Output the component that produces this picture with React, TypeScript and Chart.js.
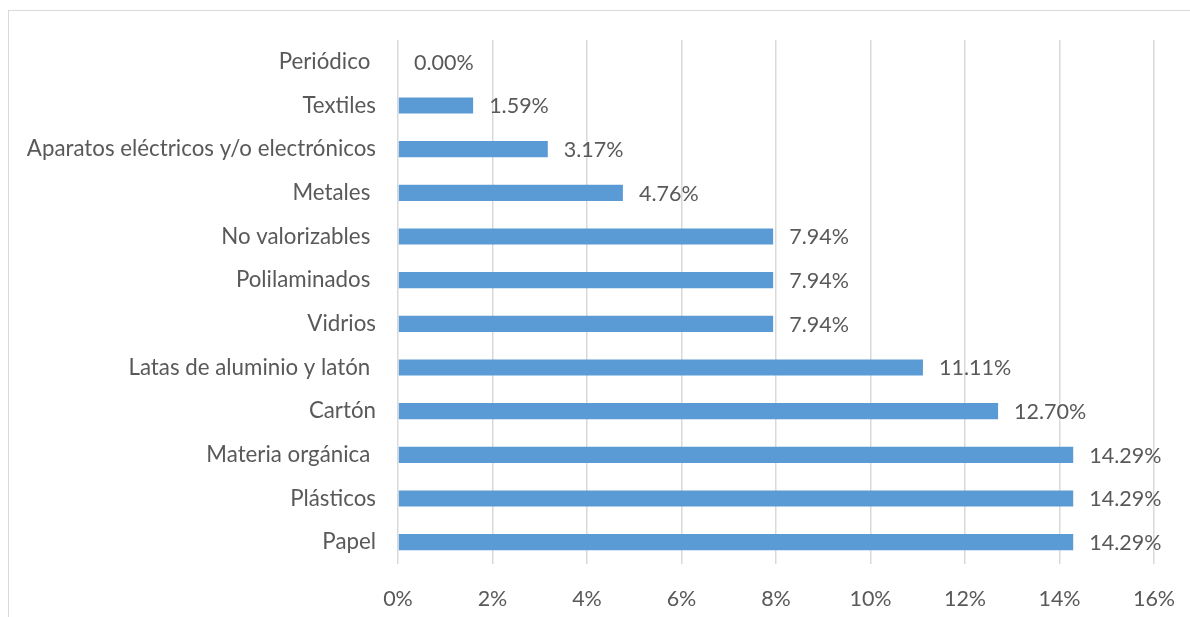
import React, { useEffect, useRef } from "react";
import { Chart, registerables } from "chart.js";

Chart.register(...registerables);

const categories = [
  "Periódico ",
  "Textiles",
  "Aparatos eléctricos y/o electrónicos",
  "Metales ",
  "No valorizables ",
  "Polilaminados ",
  "Vidrios",
  "Latas de aluminio y latón ",
  "Cartón",
  "Materia orgánica ",
  "Plásticos",
  "Papel",
];
const values = [0, 1.59, 3.17, 4.76, 7.94, 7.94, 7.94, 11.11, 12.7, 14.29, 14.29, 14.29];
const xTicks = [0, 2, 4, 6, 8, 10, 12, 14, 16];

const FONT = "Lato, 'Open Sans', sans-serif";
const TEXT = "#595959";
const SIZE = 21.5;

const framePlugin = {
  id: "frame",
  beforeDraw(chart: any) {
    const ctx = chart.ctx;
    ctx.save();
    ctx.fillStyle = "#ffffff";
    ctx.fillRect(0, 0, chart.width, chart.height);
    ctx.strokeStyle = "#d9d9d9";
    ctx.lineWidth = 1;
    ctx.strokeRect(8.5, 10.5, chart.width + 10, chart.height + 10);
    ctx.restore();
  },
};

const labelPlugin = {
  id: "valueLabels",
  afterDatasetsDraw(chart: any) {
    const ctx = chart.ctx;
    const meta = chart.getDatasetMeta(0);
    ctx.save();
    ctx.font = `${SIZE}px ${FONT}`;
    ctx.fillStyle = TEXT;
    ctx.textAlign = "left";
    ctx.textBaseline = "middle";
    meta.data.forEach((bar: any, i: number) => {
      const v = values[i];
      ctx.fillText(v.toFixed(2) + "%", bar.x + 16, bar.y + 1);
    });
    ctx.restore();
  },
};

export default function App() {
  const ref = useRef<HTMLCanvasElement>(null);
  useEffect(() => {
    if (!ref.current) return;
    const chart = new Chart(ref.current, {
      type: "bar",
      data: {
        labels: categories,
        datasets: [
          {
            data: values,
            backgroundColor: "#5b9bd5",
            borderWidth: 0,
            barPercentage: 0.37,
            categoryPercentage: 1,
          },
        ],
      },
      options: {
        indexAxis: "y",
        animation: false,
        responsive: false,
        maintainAspectRatio: false,
        layout: { padding: { top: 40, right: 36, bottom: 0, left: 0 } },
        plugins: {
          legend: { display: false },
          tooltip: { enabled: false },
        },
        scales: {
          x: {
            min: 0,
            max: 16,
            afterBuildTicks(scale: any) {
              scale.ticks = xTicks.map((v) => ({ value: v }));
            },
            afterFit(scale: any) {
              scale.height = 53;
              scale.paddingLeft = 0;
              scale.paddingRight = 0;
            },
            ticks: {
              padding: 22,
              color: TEXT,
              font: { size: SIZE, family: FONT },
              callback: (v: any) => v + "%",
            },
            grid: { color: "#d9d9d9", lineWidth: 1.5, drawTicks: false },
            border: { display: false },
          },
          y: {
            afterFit(scale: any) {
              scale.width = 398;
            },
            ticks: {
              padding: 22,
              color: TEXT,
              font: { size: 22.3, family: FONT },
            },
            grid: { display: false, drawTicks: false },
            border: { display: false },
          },
        },
      },
      plugins: [framePlugin, labelPlugin],
    });
    return () => chart.destroy();
  }, []);
  return (
    <canvas
      ref={ref}
      width={1190}
      height={617}
      style={{ position: "fixed", left: 0, top: 0, width: 1190, height: 617 }}
    />
  );
}
